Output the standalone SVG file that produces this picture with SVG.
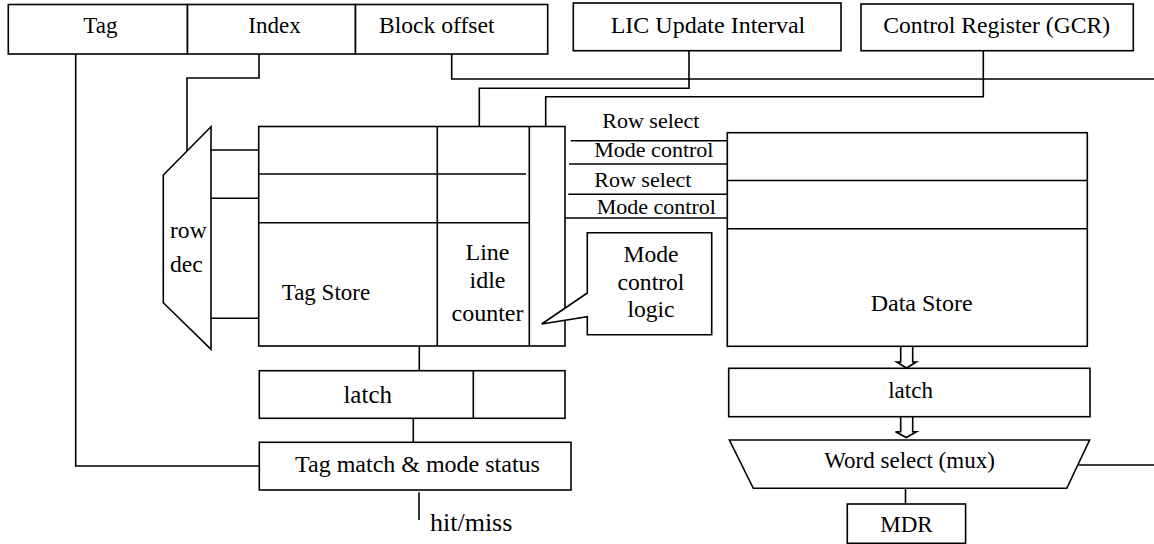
<svg xmlns="http://www.w3.org/2000/svg" width="1154" height="544" viewBox="0 0 1154 544">
<style>
.b{fill:#fff;stroke:#000;stroke-width:1.6}
.l{fill:none;stroke:#000;stroke-width:1.6}
text{font-family:'Liberation Serif','Tinos','Times New Roman','DejaVu Serif',serif;font-size:23px;fill:#000}
.m{text-anchor:middle}
.s{font-size:22px}
.t{font-size:23.6px}
.u{font-size:24px}
</style>
<rect width="1154" height="544" fill="#fff"/>
<g id="connectors">
<path class="l" d="M75.7,54 V466 H259.3"/>
<path class="l" d="M259,54 V78 H187 V151.3"/>
<path class="l" d="M451.7,54 V79 H1154"/>
<path class="l" d="M689,50.7 V88.3 H479.3 V126.5"/>
<path class="l" d="M983.3,50.7 V96.7 H545.7 V126.5"/>
<path class="l" d="M211,150 H258.7 M211,198.3 H258.7 M211,318.3 H258.7"/>
<path class="l" d="M570.7,140.7 H730 M569,164 H727.3 M568.3,194.3 H727.3 M565,218 H729.3"/>
<path class="l" d="M419.3,346 V370.7"/>
<path class="l" d="M413.3,418.3 V442.3"/>
<path class="l" d="M419,492.3 V520"/>
<path class="l" d="M1078.6,465 H1154"/>
<path class="l" d="M905.5,488.3 V504"/>
<path class="b" d="M900.7,346.3 V362 H896.7 L906.5,368 L916.3,362 H912.7 V346.3"/>
<path class="b" d="M900.7,416.7 V431.7 H895.5 L906.3,437.5 L916.5,431.7 H912.7 V416.7"/>
</g>
<g id="address">
<rect class="b" x="8.3" y="4.5" width="179.2" height="49.5"/>
<rect class="b" x="187.5" y="4.5" width="168" height="49.5"/>
<rect class="b" x="355.5" y="4.5" width="192.2" height="49.5"/>
<text x="83.3" y="33.3">Tag</text>
<text x="248.3" y="33.3">Index</text>
<text class="t" x="379" y="33.3">Block offset</text>
</g>
<g id="lic-interval">
<rect class="b" x="573.3" y="3" width="267.7" height="47.7"/>
<text class="u" x="610.7" y="33">LIC Update Interval</text>
</g>
<g id="gcr">
<rect class="b" x="861" y="4" width="272.3" height="46.7"/>
<text class="t" x="883.3" y="33">Control Register (GCR)</text>
</g>
<g id="row-dec">
<path class="b" d="M211,126.7 L163.3,175 V302.7 L211,349.3 Z"/>
<text class="t" x="170" y="237.5">row</text>
<text class="t" x="170" y="271.5">dec</text>
</g>
<g id="tag-store">
<rect class="b" x="258.7" y="126.5" width="306.3" height="219.5"/>
<path class="l" d="M437.3,126.5 V346 M529.3,126.5 V346 M258.7,174 H526 M258.7,222.7 H529.3"/>
<text x="281.7" y="300.3">Tag Store</text>
<text class="m u" x="487.5" y="260.3">Line</text>
<text class="m u" x="487.5" y="288">idle</text>
<text class="m u" x="487.5" y="321.3">counter</text>
</g>
<g id="mode-logic">
<path class="b" d="M587.3,232.7 H711.7 V334.7 H587.3 V316.7 L541.7,324 L587.3,293 Z"/>
<text class="m t" x="651" y="262">Mode</text>
<text class="m t" x="651" y="289.5">control</text>
<text class="m t" x="651" y="316.5">logic</text>
</g>
<g id="signals">
<text class="s" x="602.3" y="127.7">Row select</text>
<text class="s" x="594.3" y="157.3">Mode control</text>
<text class="s" x="594.3" y="187">Row select</text>
<text class="s" x="596.7" y="214.3">Mode control</text>
</g>
<g id="data-store">
<rect class="b" x="727.3" y="132.7" width="360" height="213.6"/>
<path class="l" d="M727.3,180.5 H1087.3 M727.3,228.7 H1087.3"/>
<text class="u" x="870.7" y="311.3">Data Store</text>
</g>
<g id="tag-latch">
<rect class="b" x="259.3" y="370.7" width="305.7" height="47.6"/>
<path class="l" d="M473.3,370.7 V418.3"/>
<text class="m" x="367.7" y="403.3" style="font-size:25px">latch</text>
</g>
<g id="tag-match">
<rect class="b" x="259.3" y="442.3" width="311.7" height="47.7"/>
<text class="u" x="295" y="471.7">Tag match &amp; mode status</text>
</g>
<g id="hit-miss">
<text x="430" y="531" style="font-size:26px">hit/miss</text>
</g>
<g id="data-latch">
<rect class="b" x="728.7" y="368.3" width="361.3" height="48.4"/>
<text class="m" x="910.6" y="398">latch</text>
</g>
<g id="word-select">
<path class="b" d="M729.4,440 H1089.6 L1066.8,488.3 H753.3 Z"/>
<text class="m" x="909.5" y="468.3">Word select (mux)</text>
</g>
<g id="mdr">
<rect class="b" x="847.3" y="504" width="118.3" height="39.3"/>
<text class="m" x="906.5" y="531.7">MDR</text>
</g>
</svg>
